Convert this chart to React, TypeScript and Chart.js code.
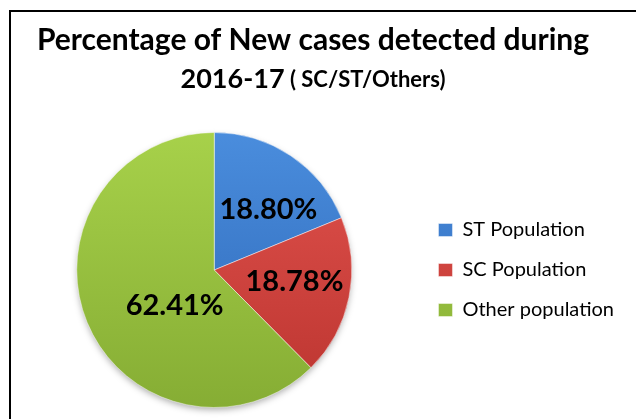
import React, { useEffect, useRef } from "react";
import { Chart, registerables } from "chart.js";

Chart.register(...registerables);

const categories = ["ST Population", "SC Population", "Other population"];
const values = [18.8, 18.78, 62.41];
const valueLabels = ["18.80%", "18.78%", "62.41%"];
const titleLine1 = "Percentage of New cases detected during";
const titleLine2Main = "2016-17";
const titleLine2Sub = " ( SC/ST/Others)";

const colorsLight = ["#4a8ddd", "#e2534e", "#a7d14a"];
const colorsDark = ["#2c66b6", "#bb342f", "#86ad34"];

const FONT = "Lato, 'Open Sans', sans-serif";

// label placement (angle shift in degrees, radius fraction)
const labelAngleShift = [8, -3, -20];
const labelRadiusFrac = [0.59, 0.59, 0.39];

const framePlugin = {
  id: "frame",
  beforeDraw(chart: any) {
    const { ctx } = chart;
    ctx.save();
    ctx.fillStyle = "#ffffff";
    ctx.fillRect(0, 0, chart.width, chart.height);
    ctx.strokeStyle = "#000000";
    ctx.lineWidth = 2;
    ctx.strokeRect(10, 11, chart.width + 50, chart.height + 50);
    ctx.restore();
  },
};

const shadowPlugin = {
  id: "pieShadow",
  beforeDatasetsDraw(chart: any) {
    const meta = chart.getDatasetMeta(0);
    const arc: any = meta.data[0];
    if (!arc) return;
    const p = arc.getProps(["x", "y", "outerRadius"], true);
    const { ctx } = chart;
    ctx.save();
    ctx.shadowColor = "rgba(0,0,0,0.35)";
    ctx.shadowBlur = 7;
    ctx.shadowOffsetY = 3;
    ctx.fillStyle = "#ffffff";
    ctx.beginPath();
    ctx.arc(p.x, p.y, p.outerRadius - 1, 0, Math.PI * 2);
    ctx.fill();
    ctx.restore();
  },
};

const titlePlugin = {
  id: "twoSizeTitle",
  afterDraw(chart: any) {
    const { ctx } = chart;
    const cx = 313;
    ctx.save();
    ctx.fillStyle = "#000000";
    ctx.textBaseline = "alphabetic";
    ctx.textAlign = "center";
    ctx.font = `bold 30px ${FONT}`;
    ctx.fillText(titleLine1, cx, 50);
    ctx.font = `bold 27px ${FONT}`;
    const w1 = ctx.measureText(titleLine2Main).width;
    ctx.font = `bold 22px ${FONT}`;
    const w2 = ctx.measureText(titleLine2Sub).width;
    const startX = cx - (w1 + w2) / 2;
    ctx.textAlign = "left";
    ctx.font = `bold 27px ${FONT}`;
    ctx.fillText(titleLine2Main, startX, 88);
    ctx.font = `bold 22px ${FONT}`;
    ctx.fillText(titleLine2Sub, startX + w1, 87);
    ctx.restore();
  },
};

const valueLabelPlugin = {
  id: "valueLabels",
  afterDatasetsDraw(chart: any) {
    const { ctx } = chart;
    const meta = chart.getDatasetMeta(0);
    ctx.save();
    ctx.fillStyle = "#000000";
    ctx.font = `bold 29px ${FONT}`;
    ctx.textAlign = "center";
    ctx.textBaseline = "middle";
    meta.data.forEach((arc: any, i: number) => {
      const p = arc.getProps(["x", "y", "startAngle", "endAngle", "outerRadius"], true);
      const mid = (p.startAngle + p.endAngle) / 2 + (labelAngleShift[i] * Math.PI) / 180;
      const r = p.outerRadius * labelRadiusFrac[i];
      ctx.fillText(valueLabels[i], p.x + Math.cos(mid) * r, p.y + Math.sin(mid) * r);
    });
    ctx.restore();
  },
};

export default function App() {
  const canvasRef = useRef<HTMLCanvasElement | null>(null);

  useEffect(() => {
    if (!canvasRef.current) return;
    Chart.defaults.font.family = FONT;
    const chart = new Chart(canvasRef.current, {
      type: "pie",
      data: {
        labels: categories,
        datasets: [
          {
            data: values,
            backgroundColor: (c: any) => {
              const chart = c.chart;
              const area = chart.chartArea;
              const i = c.dataIndex ?? 0;
              if (!area) return colorsLight[i];
              const g = chart.ctx.createLinearGradient(0, area.top, 0, area.bottom);
              g.addColorStop(0, colorsLight[i]);
              g.addColorStop(1, colorsDark[i]);
              return g;
            },
            borderColor: "rgba(255,255,255,0.45)",
            borderWidth: 1,
          },
        ],
      },
      options: {
        animation: false,
        responsive: true,
        maintainAspectRatio: false,
        layout: { padding: { top: 132, bottom: 11, left: 10, right: 12 } },
        plugins: {
          title: { display: false },
          tooltip: { enabled: false },
          legend: {
            display: true,
            position: "right",
            labels: {
              color: "#000000",
              font: { family: FONT, size: 20 },
              boxWidth: 14,
              boxHeight: 13,
              padding: 20,
            },
          },
        },
      },
      plugins: [framePlugin, shadowPlugin, titlePlugin, valueLabelPlugin],
    });
    return () => chart.destroy();
  }, []);

  return (
    <div style={{ position: "absolute", left: 0, top: 0, width: 636, height: 419 }}>
      <canvas ref={canvasRef} />
    </div>
  );
}
